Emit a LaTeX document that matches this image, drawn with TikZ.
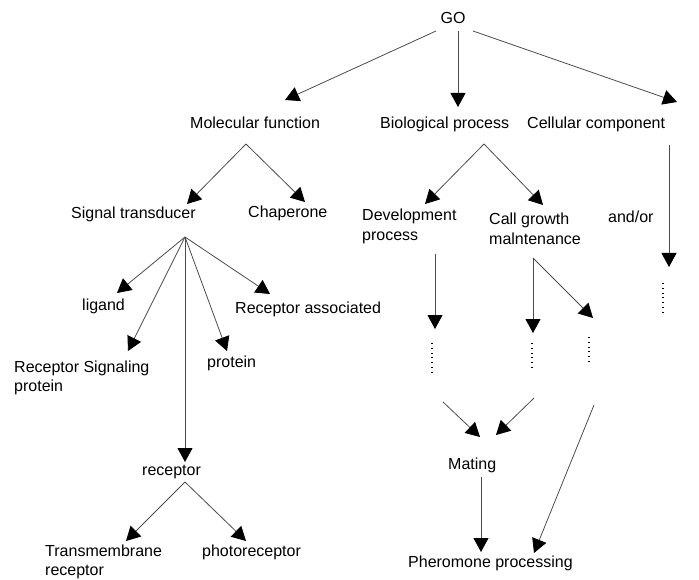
\documentclass[tikz,border=0pt]{standalone}
\usepackage{fontspec}
\setmainfont{Liberation Sans}
\usetikzlibrary{arrows.meta}
\tikzset{
  lbl/.style={inner sep=0pt, font=\fontsize{16}{19.5}\selectfont, anchor=base west},
  conn/.style={draw=black!70, line width=0.8pt, -{Triangle[length=14pt,width=15pt,color=black]}},
  vdots/.style={draw=black, line width=1.2pt, dash pattern=on 1pt off 3.8pt}
}
\newcommand{\twoline}[2]{\begin{tabular}[t]{@{}l@{}}#1\\#2\end{tabular}}
\begin{document}
\begin{tikzpicture}[x=1pt,y=-1pt]
\useasboundingbox (0,0) rectangle (699,580);
% text nodes
\node[lbl, anchor=base] (go) at (453,24) {GO};
\node[lbl] (mf) at (190,129) {Molecular function};
\node[lbl] (bp) at (380,129) {Biological process};
\node[lbl] (cc) at (527,129) {Cellular component};
\node[lbl] (st) at (71,219) {Signal transducer};
\node[lbl] (ch) at (248,218) {Chaperone};
\node[lbl] (dev) at (362,221) {\twoline{Development}{process}};
\node[lbl] (cg) at (489,225) {\twoline{Call growth}{malntenance}};
\node[lbl] (ao) at (608,223) {and/or};
\node[lbl] (lig) at (82,310) {ligand};
\node[lbl] (ra) at (235,313) {Receptor associated};
\node[lbl] (rs) at (14,372) {\twoline{Receptor Signaling}{protein}};
\node[lbl] (prot) at (207,367) {protein};
\node[lbl] (rec) at (142,475) {receptor};
\node[lbl] (tm) at (45,556) {\twoline{Transmembrane}{receptor}};
\node[lbl] (ph) at (202,556) {photoreceptor};
\node[lbl] (mat) at (448,469) {Mating};
\node[lbl] (pp) at (408,567) {Pheromone processing};
% connector end points
\coordinate (goL) at (436,31);  \coordinate (mfT) at (285,100);
\coordinate (goM) at (458,31);  \coordinate (bpT) at (458,107);
\coordinate (goR) at (473,31);  \coordinate (ccT) at (677,102);
\coordinate (mfA) at (246,144); \coordinate (stT) at (187,204); \coordinate (chT) at (305,202);
\coordinate (bpA) at (484,144); \coordinate (devT) at (425,204); \coordinate (cgT) at (543,205);
\coordinate (ccA) at (669,145); \coordinate (ccD) at (669,267);
\coordinate (stA) at (185,237);
\coordinate (ligT) at (117,293); \coordinate (rsT) at (128,351);
\coordinate (protT) at (227,351); \coordinate (raT) at (270,294);
\coordinate (recT) at (185,462);
\coordinate (recA) at (185,482); \coordinate (tmT) at (126,541); \coordinate (phT) at (246,541);
\coordinate (devA) at (435,254); \coordinate (devD) at (435,329);
\coordinate (cgA) at (533,258);  \coordinate (cgD) at (533,333); \coordinate (cgE) at (593,318);
\coordinate (d1a) at (432,343); \coordinate (d1b) at (432,372);
\coordinate (d2a) at (532,343); \coordinate (d2b) at (532,371);
\coordinate (d3a) at (589,337); \coordinate (d3b) at (589,364);
\coordinate (d4a) at (663,283); \coordinate (d4b) at (663,312);
\coordinate (m1) at (443,402); \coordinate (m1T) at (480,437);
\coordinate (m2) at (534,398); \coordinate (m2T) at (496,435);
\coordinate (lg) at (594,405); \coordinate (lgT) at (534,553);
\coordinate (matA) at (481,477); \coordinate (matT) at (481,552);
% connectors
\draw[conn] (goL) -- (mfT);
\draw[conn] (goM) -- (bpT);
\draw[conn] (goR) -- (ccT);
\draw[conn] (mfA) -- (stT);
\draw[conn] (mfA) -- (chT);
\draw[conn] (bpA) -- (devT);
\draw[conn] (bpA) -- (cgT);
\draw[conn] (ccA) -- (ccD);
\draw[conn] (stA) -- (ligT);
\draw[conn] (stA) -- (rsT);
\draw[conn] (stA) -- (protT);
\draw[conn] (stA) -- (raT);
\draw[conn] (stA) -- (recT);
\draw[conn] (recA) -- (tmT);
\draw[conn] (recA) -- (phT);
\draw[conn] (devA) -- (devD);
\draw[conn] (cgA) -- (cgD);
\draw[conn] (cgA) -- (cgE);
\draw[conn] (m1) -- (m1T);
\draw[conn] (m2) -- (m2T);
\draw[conn] (lg) -- (lgT);
\draw[conn] (matA) -- (matT);
% dotted continuations
\draw[vdots] (d1a) -- (d1b);
\draw[vdots] (d2a) -- (d2b);
\draw[vdots] (d3a) -- (d3b);
\draw[vdots] (d4a) -- (d4b);
\end{tikzpicture}
\end{document}
